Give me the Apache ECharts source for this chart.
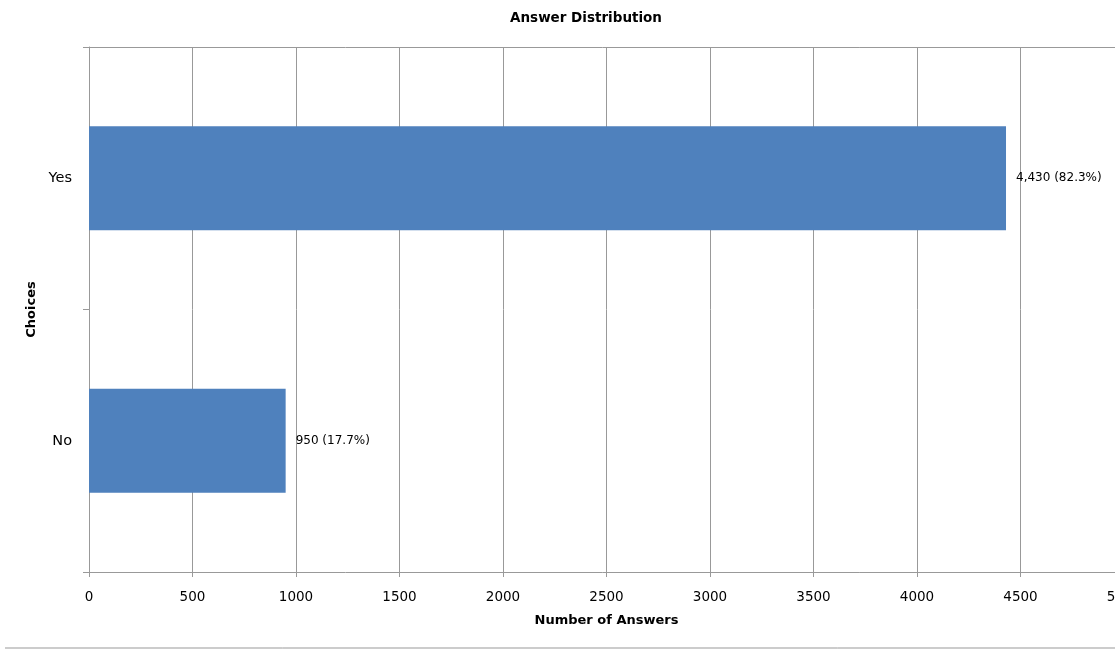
<!DOCTYPE html>
<html>
<head>
<meta charset="utf-8">
<script src="https://cdn.jsdelivr.net/npm/echarts@6/dist/echarts.min.js"></script>
<style>
html,body{margin:0;padding:0;background:#fff;}
#chart{width:1115px;height:649px;}
</style>
</head>
<body>
<div id="chart"></div>
<script>
const categories = ['No', 'Yes'];
const answerCounts = [950, 4430];
const answerPercents = [17.7, 82.3];
const xTickMax = 5000;
const xTickStep = 500;

const chart = echarts.init(document.getElementById('chart'), null, {renderer: 'canvas'});
const FONT = 'DejaVu Sans';
const GRID = '#999999';

chart.setOption({
  animation: false,
  backgroundColor: '#ffffff',
  title: {
    text: 'Answer Distribution',
    left: 581,
    top: 6,
    textAlign: 'center',
    textStyle: {fontFamily: FONT, fontSize: 13.5, fontWeight: 'bold', color: '#000'}
  },
  grid: {left: 89, top: 47, width: 1035, height: 525, containLabel: false, outerBoundsMode: 'none'},
  xAxis: [{
    type: 'value',
    min: 0,
    max: xTickMax,
    interval: xTickStep,
    position: 'bottom',
    name: 'Number of Answers',
    nameLocation: 'middle',
    nameGap: 42,
    nameTextStyle: {fontFamily: FONT, fontSize: 13, fontWeight: 'bold', color: '#000'},
    axisLine: {show: true, lineStyle: {color: GRID, width: 1}},
    axisTick: {show: true, length: 5, lineStyle: {color: GRID}},
    axisLabel: {fontFamily: FONT, fontSize: 13.5, color: '#000', margin: 18, formatter: v => String(v)},
    splitLine: {show: true, lineStyle: {color: GRID, width: 1}}
  }, {
    type: 'value',
    min: 0,
    max: xTickMax,
    position: 'top',
    axisLine: {show: true, lineStyle: {color: GRID, width: 1}},
    axisTick: {show: false},
    axisLabel: {show: false},
    splitLine: {show: false}
  }],
  yAxis: {
    type: 'category',
    data: categories,
    name: 'Choices',
    nameLocation: 'middle',
    nameGap: 51,
    nameTextStyle: {fontFamily: FONT, fontSize: 13, fontWeight: 'bold', color: '#000'},
    axisLine: {show: true, lineStyle: {color: GRID, width: 1}},
    axisTick: {show: true, length: 6, alignWithLabel: false, lineStyle: {color: GRID}},
    axisLabel: {fontFamily: FONT, fontSize: 14.5, color: '#000', margin: 17},
    splitLine: {show: false}
  },
  series: [{
    type: 'bar',
    xAxisIndex: 0,
    data: answerCounts,
    barWidth: 104,
    itemStyle: {color: '#4f81bd'},
    label: {
      show: true,
      position: 'right',
      distance: 10,
      fontFamily: FONT,
      fontSize: 12,
      color: '#000',
      formatter: p => p.value.toLocaleString('en-US') + ' (' + answerPercents[p.dataIndex].toFixed(1) + '%)'
    }
  }],
  graphic: [{
    type: 'line',
    shape: {x1: 5, y1: 648, x2: 1115, y2: 648},
    style: {stroke: GRID, lineWidth: 1}
  }]
});
</script>
</body>
</html>
